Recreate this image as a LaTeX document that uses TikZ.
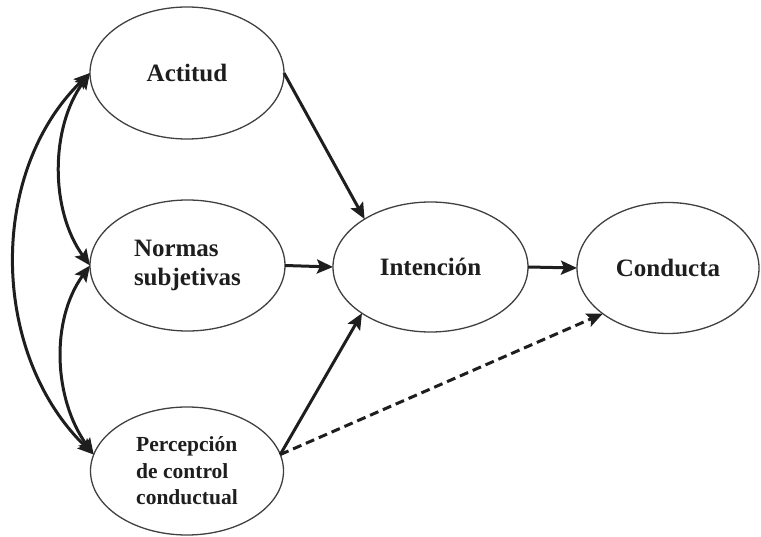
\documentclass[tikz,border=0pt]{standalone}
\usepackage{fontspec}
\setmainfont{Liberation Serif}
\usetikzlibrary{shapes.geometric,arrows.meta}
\definecolor{ink}{HTML}{1E1E1E}
\tikzset{
  oval/.style={ellipse, draw=ink!85, line width=1.3pt, inner sep=0pt, outer sep=0pt,
    text=ink, font=\bfseries\fontsize{25}{29}\selectfont, align=left},
  tip/.tip={Stealth[length=16pt,width=14pt,inset=3pt]},
  arr/.style={draw=ink, line width=3pt, -tip},
  biarr/.style={draw=ink, line width=3pt, tip-tip},
  dasharr/.style={arr, dash pattern=on 9pt off 5pt}
}
\begin{document}
\begin{tikzpicture}[x=1pt,y=-1pt]
\useasboundingbox (0,0) rectangle (761,537);
\node[oval, minimum width=194pt, minimum height=132pt] (act) at (187,73) {Actitud};
\node[oval, minimum width=195pt, minimum height=131pt] (norm) at (187.5,265.5) {Normas\\subjetivas};
\node[oval, minimum width=193pt, minimum height=128pt, font=\bfseries\fontsize{21.5}{26.5}\selectfont] (perc) at (187,471) {Percepción\\de control\\conductual};
\node[oval, minimum width=195pt, minimum height=130pt] (int) at (430.5,267) {Intención};
\node[oval, minimum width=182pt, minimum height=131pt] (cond) at (668,268) {Conducta};

\draw[arr] (act.east) -- (int.144);
\draw[arr] (norm.east) -- (int.west);
\draw[arr] (perc.10) -- (int.214);
\draw[arr] (int.east) -- (cond.west);
\draw[dasharr] (perc.10) -- (cond.215);

\draw[biarr] (act.west) .. controls +(-40,55) and +(-40,-55) .. (norm.west);
\draw[biarr] (norm.west) .. controls +(-40,55) and +(-40,-55) .. (perc.170);
\draw[biarr] (act.west) .. controls +(-103,100) and +(-103,-100) .. (perc.170);
\end{tikzpicture}
\end{document}
